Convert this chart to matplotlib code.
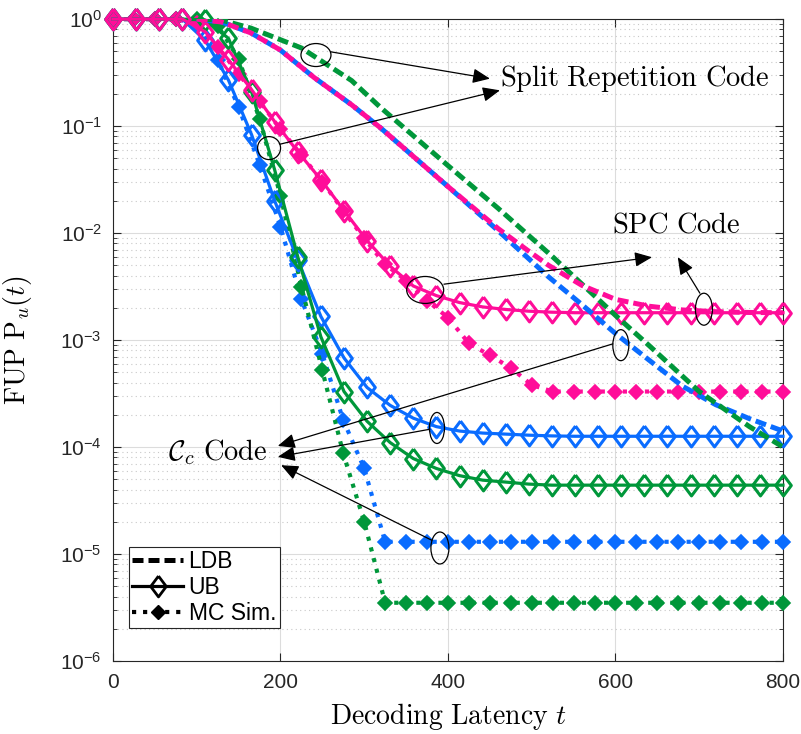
import matplotlib
matplotlib.use('Agg')
import matplotlib.pyplot as plt
from matplotlib.lines import Line2D
from matplotlib.patches import Ellipse

# sample points of the upper bound (diamond markers)
t_ub = [0, 27.6, 55.2, 82.8, 110.3, 137.9, 165.5, 193.1, 220.7, 248.3,
        275.9, 303.4, 331.0, 358.6, 386.2, 413.8, 441.4, 469.0, 496.6, 524.1,
        551.7, 579.3, 606.9, 634.5, 662.1, 689.7, 717.2, 744.8, 772.4, 800]
ub_cc1 = [1, 1, 1, 1, 0.631, 0.269, 0.0832, 0.0200, 5.6e-3, 1.66e-3,
          6.8e-4, 3.6e-4, 2.45e-4, 1.86e-4, 1.55e-4, 1.41e-4, 1.35e-4, 1.32e-4, 1.29e-4, 1.27e-4,
          1.26e-4, 1.26e-4, 1.26e-4, 1.26e-4, 1.26e-4, 1.26e-4, 1.26e-4, 1.26e-4, 1.26e-4, 1.26e-4]
ub_cc2 = [1, 1, 1, 1, 0.98, 0.661, 0.209, 0.0389, 6.0e-3, 1.07e-3,
          3.3e-4, 1.74e-4, 1.10e-4, 7.8e-5, 6.3e-5, 5.4e-5, 4.9e-5, 4.7e-5, 4.5e-5, 4.4e-5,
          4.4e-5, 4.4e-5, 4.4e-5, 4.4e-5, 4.4e-5, 4.4e-5, 4.4e-5, 4.4e-5, 4.4e-5, 4.4e-5]
ub_spc = [1, 1, 1, 1, 0.759, 0.417, 0.219, 0.110, 0.0575, 0.0316,
          0.0162, 8.5e-3, 4.9e-3, 3.2e-3, 2.6e-3, 2.24e-3, 2.04e-3, 1.93e-3, 1.86e-3, 1.82e-3,
          1.80e-3, 1.80e-3, 1.80e-3, 1.80e-3, 1.80e-3, 1.80e-3, 1.80e-3, 1.80e-3, 1.80e-3, 1.80e-3]

# Monte Carlo simulation points
t_mc = list(range(0, 801, 25))
mc_cc1 = [1, 1, 1, 1, 0.912, 0.417, 0.151, 0.0437, 0.0115, 2.4e-3,
          7.4e-4, 1.78e-4, 6.3e-5, 1.3e-5, 1.3e-5, 1.3e-5, 1.3e-5, 1.3e-5, 1.3e-5, 1.3e-5,
          1.3e-5, 1.3e-5, 1.3e-5, 1.3e-5, 1.3e-5, 1.3e-5, 1.3e-5, 1.3e-5, 1.3e-5, 1.3e-5,
          1.3e-5, 1.3e-5, 1.3e-5]
mc_cc2 = [1, 1, 1, 1, 1, 0.87, 0.427, 0.117, 0.0224, 3.16e-3,
          5.2e-4, 8.7e-5, 2.0e-5, 3.5e-6, 3.5e-6, 3.5e-6, 3.5e-6, 3.5e-6, 3.5e-6, 3.5e-6,
          3.5e-6, 3.5e-6, 3.5e-6, 3.5e-6, 3.5e-6, 3.5e-6, 3.5e-6, 3.5e-6, 3.5e-6, 3.5e-6,
          3.5e-6, 3.5e-6, 3.5e-6]
mc_spc = [1, 1, 1, 1, 0.912, 0.550, 0.309, 0.170, 0.0933, 0.0537,
          0.0302, 0.0162, 8.9e-3, 5.1e-3, 3.6e-3, 2.34e-3, 1.62e-3, 9.3e-4, 7.2e-4, 5.5e-4,
          3.8e-4, 3.3e-4, 3.3e-4, 3.3e-4, 3.3e-4, 3.3e-4, 3.3e-4, 3.3e-4, 3.3e-4, 3.3e-4,
          3.3e-4, 3.3e-4, 3.3e-4]

# lower bounds (split repetition code)
t_ldb1 = [100, 130, 165, 200, 240, 285, 320, 400, 460, 520, 560, 600, 640, 680, 720, 760, 800]
ldb_cc1 = [1.0, 0.938, 0.741, 0.513, 0.285, 0.158, 0.0955, 0.0272, 0.0105, 3.9e-3,
           2.14e-3, 1.15e-3, 6.5e-4, 3.7e-4, 2.48e-4, 1.84e-4, 1.41e-4]
t_ldb2 = [105, 130, 165, 225, 285, 320, 400, 460, 525, 600, 640, 700, 760, 800]
ldb_cc2 = [1.0, 0.977, 0.822, 0.537, 0.266, 0.148, 0.0427, 0.0170, 6.0e-3, 1.70e-3,
           8.9e-4, 3.3e-4, 1.55e-4, 1.0e-4]
t_ldb3 = [100, 130, 165, 200, 240, 285, 320, 400, 460, 495, 520, 560, 600, 640, 680, 720, 760, 800]
ldb_spc = [1.0, 0.938, 0.741, 0.513, 0.285, 0.158, 0.0955, 0.0272, 0.011, 6.9e-3,
           5.0e-3, 3.24e-3, 2.4e-3, 2.07e-3, 1.91e-3, 1.84e-3, 1.81e-3, 1.80e-3]

blue = '#0A6CFF'
green = '#00973A'
pink = '#FF0D99'

plt.rcParams['font.family'] = ['Liberation Sans', 'DejaVu Sans']
plt.rcParams['mathtext.fontset'] = 'custom'
plt.rcParams['mathtext.rm'] = 'Liberation Sans'
plt.rcParams['font.size'] = 15

diamond = [(0, 1), (0.75, 0), (0, -1), (-0.75, 0), (0, 1)]
dash = (2.2, 1.0)

fig = plt.figure(figsize=(8.01, 7.34), dpi=100)
ax = fig.add_axes([0.141, 0.0995, 0.8365, 0.8745])

lw_ldb = 3.6
lw_ub = 2.3
lw_mc = 3.0

series = [(blue, t_ldb1, ldb_cc1, ub_cc1, mc_cc1, 1.6),
          (green, t_ldb2, ldb_cc2, ub_cc2, mc_cc2, 0),
          (pink, t_ldb3, ldb_spc, ub_spc, mc_spc, 0)]

for col, tl, ldb, ub, mc, off in series:
    ax.plot(t_mc, mc, ':', color=col, lw=lw_mc, marker='D', ms=7,
            mfc=col, mec=col, mew=1.2, clip_on=False, zorder=3)
    ax.plot(t_ub, ub, '-', color=col, lw=lw_ub, marker=diamond, ms=15,
            mfc='none', mec=col, mew=2.2, clip_on=False, zorder=4)
for col, tl, ldb, ub, mc, off in series:
    ax.plot(tl, ldb, color=col, lw=lw_ldb, ls=(off, dash), zorder=5)

ax.set_yscale('log')
ax.set_xlim(0, 800)
ax.set_ylim(1e-6, 1)
ax.set_xticks([0, 200, 400, 600, 800])
ax.grid(True, which='major', color='#dcdcdc', lw=0.8)
ax.grid(True, which='minor', axis='y', color='#c8c8c8', lw=0.8, ls=(0, (1, 3)))
ax.set_axisbelow(True)
ax.tick_params(which='both', direction='in', top=True, right=True, colors='#262626')
ax.tick_params(which='major', length=6, labelsize=15)
ax.tick_params(which='minor', length=3)
ax.tick_params(axis='x', pad=9)
ax.tick_params(axis='y', pad=8)
for s in ax.spines.values():
    s.set_color('#262626')
    s.set_linewidth(0.8)

ax.set_xlabel(r'$\mathrm{Decoding\ Latency}\ t$', fontsize=20, math_fontfamily='cm')
ax.set_ylabel(r'$\mathrm{FUP\ P}_u(t)$', fontsize=20, math_fontfamily='cm')
ax.xaxis.set_label_coords(0.5, -0.062)
ax.yaxis.set_label_coords(-0.118, 0.5)

# annotations
txt = dict(fontsize=20.5, math_fontfamily='cm', transform=ax.transAxes, va='center')
ax.text(0.578, 0.908, r'$\mathrm{Split\ Repetition\ Code}$', ha='left', **txt)
ax.text(0.745, 0.679, r'$\mathrm{SPC\ Code}$', ha='left', **txt)
ax.text(0.082, 0.3255, r'$\mathcal{C}_c\ \mathrm{Code}$', ha='left', **txt)

ellipses = [(0.303, 0.944, 0.0448, 0.0358), (0.233, 0.799, 0.0343, 0.0358),
            (0.466, 0.578, 0.0552, 0.042), (0.882, 0.548, 0.0254, 0.0498),
            (0.758, 0.492, 0.0239, 0.0483), (0.4836, 0.363, 0.0224, 0.0483),
            (0.488, 0.176, 0.0269, 0.0498)]
for x, y, w, h in ellipses:
    ax.add_patch(Ellipse((x, y), w, h, transform=ax.transAxes, fill=False,
                         lw=0.9, color='k', zorder=6, clip_on=False))

arrows = [((0.325, 0.949), (0.5627, 0.9072)), ((0.249, 0.805), (0.5776, 0.889)),
          ((0.494, 0.587), (0.8045, 0.629)), ((0.876, 0.573), (0.843, 0.629)),
          ((0.746, 0.494), (0.246, 0.335)), ((0.473, 0.361), (0.246, 0.318)),
          ((0.476, 0.188), (0.251, 0.305))]
for a, b in arrows:
    ax.annotate('', xy=b, xytext=a, xycoords='axes fraction', textcoords='axes fraction',
                arrowprops=dict(arrowstyle='-|>,head_length=0.7,head_width=0.3', color='k',
                                lw=0.9, shrinkA=0, shrinkB=0), zorder=6)

handles = [Line2D([], [], color='k', lw=lw_ldb, ls=(0, dash)),
           Line2D([], [], color='k', lw=lw_ub, marker=diamond, ms=15, mfc='none', mew=2.0),
           Line2D([], [], color='k', ls=':', lw=lw_mc, marker='D', ms=7)]
leg = ax.legend(handles, ['LDB', 'UB', 'MC Sim.'], loc='lower left',
                bbox_to_anchor=(0.024, 0.051), fancybox=False, framealpha=1,
                edgecolor='#262626', fontsize=16.5, handlelength=2.2,
                borderpad=0.15, labelspacing=0.12, handletextpad=0.25, borderaxespad=0)
leg.get_frame().set_linewidth(0.8)

fig.savefig('out.png', dpi=100)
